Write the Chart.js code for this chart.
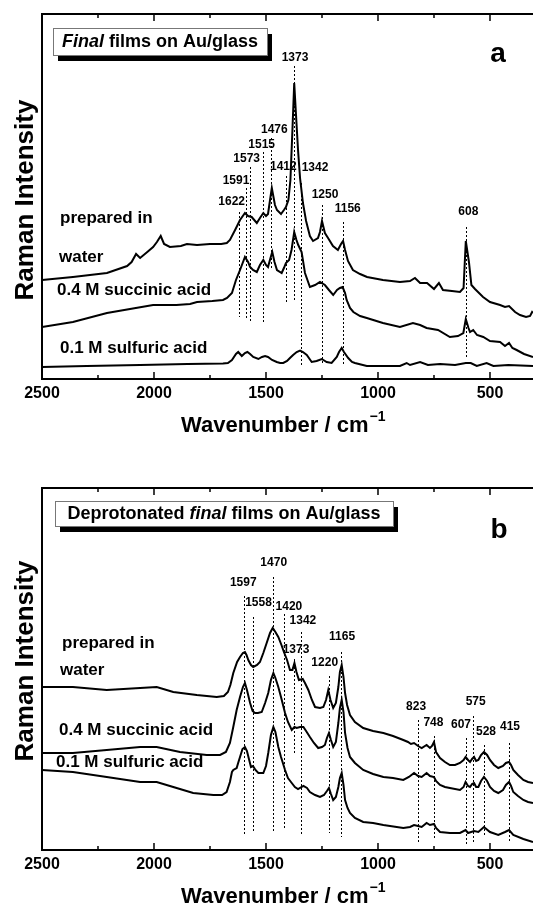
<!DOCTYPE html>
<html>
<head>
<meta charset="utf-8">
<script src="https://cdn.jsdelivr.net/npm/chart.js@4.4.1/dist/chart.umd.min.js"></script>
<style>
  html, body { margin: 0; padding: 0; background: #fff; overflow: hidden; }
  .panel { position: absolute; left: 0; width: 533px; }
  #panelA { top: 0; height: 440px; }
  #panelB { top: 440px; height: 470px; }
</style>
</head>
<body>
<div class="panel" id="panelA"><canvas id="chartA"></canvas></div>
<div class="panel" id="panelB"><canvas id="chartB"></canvas></div>
<script>
// x axis (wavenumber, cm-1)
const xTickLabels = [2500, 2000, 1500, 1000, 500];

// --- panel a: final films, [wavenumber, intensity] ---
const waterA = [
  [2500,99],[2362,102],[2210,106],[2120,113],[2100,117],[2080,125],[2062,121],[2030,127],[2004,132],[1987,137],
  [1970,143],[1955,135],[1929,132],[1880,133],[1853,135],[1808,134],[1750,135],[1700,135],[1675,136],[1661,139],
  [1638,149],[1616,159],[1594,166],[1580,163],[1564,162],[1541,156],[1527,161],[1512,166],[1500,163],[1491,165],
  [1482,179],[1474,191],[1460,174],[1451,169],[1433,165],[1420,169],[1411,172],[1400,179],[1391,199],[1382,249],
  [1374,296],[1366,264],[1357,229],[1348,201],[1335,176],[1321,158],[1304,143],[1290,138],[1268,141],[1259,147],
  [1250,158],[1237,146],[1223,141],[1201,133],[1179,129],[1165,135],[1156,138],[1147,129],[1134,118],[1112,109],
  [1080,105],[1049,102],[978,99],[902,97],[857,98],[835,101],[812,96],[781,96],[750,90],[728,96],[710,89],
  [670,88],[634,87],[618,91],[608,138],[594,117],[583,94],[567,90],[531,82],[500,77],[455,74],[433,72],[415,73],
  [388,67],[366,64],[339,62],[321,63],[312,67],[308,66]
];
const succinicA = [
  [2500,52],[2362,57],[2210,66],[2107,70],[2004,74],[1960,74],[1900,74],[1839,75],[1808,77],[1740,78],[1692,79],
  [1674,81],[1652,86],[1634,99],[1616,109],[1594,122],[1580,117],[1571,112],[1558,109],[1541,107],[1527,114],
  [1512,119],[1500,114],[1491,112],[1480,121],[1472,127],[1462,117],[1451,109],[1430,106],[1420,111],[1411,116],
  [1397,119],[1386,129],[1374,147],[1364,139],[1356,134],[1341,127],[1326,106],[1304,92],[1281,94],[1259,97],
  [1237,94],[1219,89],[1200,84],[1183,89],[1170,91],[1158,92],[1147,86],[1140,79],[1125,71],[1110,67],[1080,63],
  [1050,61],[978,56],[902,52],[844,56],[812,54],[783,51],[732,49],[679,42],[643,43],[619,46],[608,60],[596,51],
  [589,47],[575,49],[558,44],[530,42],[500,38],[455,37],[433,33],[415,36],[400,31],[381,29],[348,25],[308,22]
];
const sulfuricA = [
  [2500,12],[2300,13],[2062,14],[1850,15],[1692,15.5],[1670,16],[1652,19],[1634,25],[1624,27],[1608,23],[1594,26],
  [1583,27],[1571,25],[1557,22],[1534,20],[1518,22],[1504,23],[1491,22],[1473,19],[1452,17],[1437,16],[1423,16],
  [1406,18],[1393,21],[1379,24],[1363,27],[1348,28.5],[1335,27],[1318,24],[1296,17],[1274,18],[1251,20],[1229,17],
  [1207,16],[1184,22],[1174,27],[1162,31],[1152,27],[1133,21],[1116,17],[1103,16],[1050,13],[902,13],[872,16],
  [857,14],[812,17],[777,14],[723,15],[656,14],[608,16],[586,16],[559,13],[515,16],[485,13],[418,14],[308,13]
];
const peaksA = [1622, 1591, 1573, 1515, 1476, 1412, 1373, 1342, 1250, 1156, 608];

// --- panel b: deprotonated final films ---
const waterB = [
  [2500,163],[2362,163],[2211,160],[2062,162],[1988,163],[1914,158],[1809,155],[1720,153],[1688,154],[1670,158],
  [1659,165],[1646,177],[1629,188],[1616,193],[1603,197],[1594,198],[1587,195],[1579,190],[1567,185],[1557,183],
  [1540,185],[1527,188],[1512,197],[1497,207],[1482,217],[1470,222],[1458,218],[1445,213],[1431,205],[1420,198],
  [1406,190],[1393,180],[1382,180],[1373,187],[1364,178],[1353,170],[1336,171],[1326,167],[1311,160],[1295,150],
  [1281,143],[1259,142],[1244,143],[1232,150],[1222,160],[1212,150],[1200,142],[1188,147],[1177,163],[1170,178],
  [1162,185],[1154,173],[1147,157],[1138,145],[1125,135],[1103,128],[1066,122],[1022,119],[976,117],[933,114],
  [887,110],[866,108],[853,106],[839,107],[821,104],[805,102],[783,105],[768,102],[759,104],[750,108],[741,98],
  [723,92],[701,88],[679,85],[656,85],[634,87],[618,90],[609,93],[598,90],[589,88],[580,91],[571,93],[562,89],
  [552,90],[540,95],[527,98],[513,95],[500,90],[482,85],[463,82],[442,84],[429,87],[415,88],[406,85],[396,80],
  [375,75],[351,70],[330,68],[308,67]
];
const succinicB = [
  [2500,97],[2362,97],[2211,100],[2062,103],[1988,103],[1884,98],[1765,95],[1705,95],[1679,98],[1661,107],
  [1647,122],[1631,140],[1616,153],[1603,163],[1594,167],[1585,160],[1571,147],[1560,139],[1549,137],[1536,137],
  [1519,138],[1504,147],[1490,157],[1478,170],[1467,177],[1458,172],[1445,163],[1433,153],[1415,137],[1402,128],
  [1385,120],[1373,123],[1363,122],[1348,123],[1333,123],[1321,119],[1304,113],[1286,107],[1267,102],[1250,103],
  [1237,105],[1228,112],[1219,117],[1210,110],[1200,103],[1188,108],[1177,127],[1170,142],[1162,150],[1154,138],
  [1147,117],[1136,102],[1125,93],[1103,87],[1066,80],[1022,76],[976,73],[933,72],[887,70],[862,73],[839,77],
  [821,74],[805,73],[783,77],[768,74],[750,73],[741,69],[723,65],[701,63],[679,62],[634,60],[618,63],[609,68],
  [598,64],[589,63],[580,66],[571,67],[562,63],[552,63],[540,69],[527,73],[513,69],[500,63],[482,59],[463,57],
  [442,60],[429,65],[415,68],[406,64],[396,58],[375,54],[351,50],[330,48],[308,47]
];
const sulfuricB = [
  [2500,80],[2362,78],[2211,73],[2062,68],[1988,68],[1914,63],[1825,57],[1735,55],[1696,55],[1676,58],[1661,68],
  [1652,78],[1646,80],[1631,82],[1623,88],[1616,93],[1605,101],[1594,103],[1585,99],[1575,90],[1567,83],[1558,84],
  [1547,80],[1534,77],[1512,77],[1500,84],[1490,97],[1478,115],[1467,123],[1458,118],[1445,103],[1433,93],[1415,80],
  [1402,72],[1385,67],[1371,63],[1357,61],[1333,64],[1317,62],[1304,58],[1281,55],[1259,53],[1241,55],[1228,59],
  [1219,62],[1210,56],[1200,50],[1188,53],[1177,63],[1170,72],[1162,77],[1154,65],[1147,50],[1136,42],[1125,37],
  [1103,32],[1066,28],[1022,27],[976,25],[887,22],[857,23],[839,25],[821,24],[805,23],[783,27],[768,25],[750,26],
  [741,22],[723,18],[679,17],[634,17],[609,20],[598,17],[571,19],[552,18],[527,23],[500,18],[463,15],[433,18],
  [415,20],[396,15],[351,11],[308,8]
];
const peaksB = [1597, 1558, 1470, 1420, 1373, 1342, 1220, 1165, 823, 748, 607, 575, 528, 415];

// layout: dashed marker [top, bottom, label dx(px), label y] in intensity units
const marksA = [
  [167,62,-7,177],[191,59,-9.6,198],[212,58,-3,220],[227,57,-1,234],[241,109,3,249],[203,77,-2.4,212],
  [313,79,0.6,321],[196,14,13.6,211],[174,16,3,184],[157,14,4.7,170],[152,22,2.5,167]
];
const marksB = [
  [254,15,-1,267],[233,18,5.5,247],[273,17,1,287],[236,20,5,243],[191,95,1.6,200],[218,16,1.5,229],
  [174,17,-4,187],[198,13,1,213],[130,8,-1.6,143],[114,12,-1,127],[112,6,-5,125],[134,7,2.5,148],
  [105,13,2.3,118],[107,8,1,123]
];

const FONT = '"Liberation Sans", Arial, Helvetica, sans-serif';

function makeDecor(p) {
  return {
    id: 'decor',
    afterDatasetsDraw(chart) {
      const {ctx, chartArea: a, scales: {x, y}} = chart;
      ctx.save();

      // dashed peak markers
      ctx.strokeStyle = '#000';
      ctx.lineWidth = 1;
      ctx.setLineDash([2, 2]);
      p.peaks.forEach((wn, i) => {
        const m = p.marks[i];
        const px = Math.round(x.getPixelForValue(wn)) + 0.5;
        ctx.beginPath();
        ctx.moveTo(px, y.getPixelForValue(m[0]));
        ctx.lineTo(px, y.getPixelForValue(m[1]));
        ctx.stroke();
      });
      ctx.setLineDash([]);

      ctx.fillStyle = '#000';
      ctx.font = 'bold 12px ' + FONT;
      ctx.textAlign = 'center';
      ctx.textBaseline = 'middle';
      p.peaks.forEach((wn, i) => {
        const m = p.marks[i];
        ctx.fillText(String(wn), x.getPixelForValue(wn) + m[2], y.getPixelForValue(m[3]));
      });

      // frame (left, top, bottom) with inward ticks
      ctx.lineWidth = 2;
      ctx.beginPath();
      ctx.moveTo(a.right + 2, a.top);
      ctx.lineTo(a.left, a.top);
      ctx.lineTo(a.left, a.bottom);
      ctx.lineTo(a.right + 2, a.bottom);
      ctx.stroke();
      ctx.lineWidth = 1.5;
      for (let v = 2500; v >= x.min; v -= 250) {
        const px = x.getPixelForValue(v);
        const len = v % 500 === 0 ? 7 : 4;
        ctx.beginPath();
        ctx.moveTo(px, a.bottom);
        ctx.lineTo(px, a.bottom - len);
        ctx.moveTo(px, a.top);
        ctx.lineTo(px, a.top + len);
        ctx.stroke();
      }

      // curve names
      ctx.font = 'bold 17px ' + FONT;
      ctx.textAlign = 'left';
      p.curveNames.forEach(c => ctx.fillText(c[2], c[0], c[1]));

      // title box with shadow
      const [bx, by, bw, bh] = p.box;
      ctx.fillStyle = '#000';
      ctx.fillRect(bx + 5, by + 6, bw, bh);
      ctx.fillStyle = '#fff';
      ctx.fillRect(bx, by, bw, bh);
      ctx.strokeStyle = '#777';
      ctx.lineWidth = 1;
      ctx.strokeRect(bx + 0.5, by + 0.5, bw, bh);
      let total = 0;
      p.boxText.forEach(s => {
        ctx.font = (s[1] ? 'italic ' : '') + 'bold 18px ' + FONT;
        total += ctx.measureText(s[0]).width;
      });
      let tx = bx + (bw - total) / 2;
      ctx.fillStyle = '#000';
      ctx.textBaseline = 'middle';
      p.boxText.forEach(s => {
        ctx.font = (s[1] ? 'italic ' : '') + 'bold 18px ' + FONT;
        ctx.fillText(s[0], tx, by + bh / 2 + 1);
        tx += ctx.measureText(s[0]).width;
      });

      // panel letter
      ctx.font = 'bold 28px ' + FONT;
      ctx.textAlign = 'center';
      ctx.fillText(p.letter, p.letterPos[0], p.letterPos[1]);

      // y title
      ctx.save();
      ctx.translate(33, p.yTitleY);
      ctx.rotate(-Math.PI / 2);
      ctx.font = 'bold 26px ' + FONT;
      ctx.textBaseline = 'alphabetic';
      ctx.fillText('Raman Intensity', 0, 0);
      ctx.restore();

      // x title with superscript
      ctx.textAlign = 'left';
      ctx.textBaseline = 'alphabetic';
      ctx.font = 'bold 22px ' + FONT;
      const base = a.bottom + 53;
      const main = 'Wavenumber / cm';
      ctx.fillText(main, 181, base);
      const w = ctx.measureText(main).width;
      ctx.font = 'bold 14px ' + FONT;
      ctx.fillText('\u22121', 181 + w + 1, base - 11);

      ctx.restore();
    }
  };
}

function makePanel(p) {
  const toPts = s => s.map(d => ({x: d[0], y: d[1]}));
  return new Chart(document.getElementById(p.canvas), {
    type: 'line',
    data: {
      datasets: p.series.map(s => ({
        data: toPts(s),
        borderColor: '#000',
        borderWidth: 2,
        pointRadius: 0,
        tension: 0,
        fill: false
      }))
    },
    options: {
      responsive: true,
      maintainAspectRatio: false,
      animation: false,
      devicePixelRatio: 1,
      layout: { padding: { top: p.top, left: 0, right: 0, bottom: 0 } },
      plugins: { legend: { display: false }, tooltip: { enabled: false } },
      scales: {
        x: {
          type: 'linear',
          reverse: true,
          min: 308,
          max: 2500,
          grid: { display: false, drawTicks: false },
          border: { display: false },
          afterBuildTicks: s => { s.ticks = xTickLabels.slice().reverse().map(v => ({value: v})); },
          afterFit: s => { s.height = p.xBox; },
          ticks: {
            autoSkip: false,
            maxRotation: 0,
            padding: 5,
            color: '#000',
            font: { family: FONT, size: 16, weight: 'bold' },
            callback: v => String(v)
          }
        },
        y: {
          min: 0,
          max: p.yMax,
          grid: { display: false, drawTicks: false },
          border: { display: false },
          ticks: { display: false },
          afterFit: s => { s.width = 42; }
        }
      }
    },
    plugins: [makeDecor(p)]
  });
}

makePanel({
  canvas: 'chartA', top: 14, xBox: 61, yMax: 365,
  series: [waterA, succinicA, sulfuricA],
  peaks: peaksA, marks: marksA,
  curveNames: [[60, 218, 'prepared in'], [59, 257, 'water'], [57, 290, '0.4 M succinic acid'], [60, 348, '0.1 M sulfuric acid']],
  box: [53, 28, 214, 27],
  boxText: [['Final', true], [' films on Au/glass', false]],
  letter: 'a', letterPos: [498, 54],
  yTitleY: 200
});

makePanel({
  canvas: 'chartB', top: 48, xBox: 60, yMax: 362,
  series: [waterB, succinicB, sulfuricB],
  peaks: peaksB, marks: marksB,
  curveNames: [[62, 203, 'prepared in'], [60, 230, 'water'], [59, 290, '0.4 M succinic acid'], [56, 322, '0.1 M sulfuric acid']],
  box: [55, 61, 338, 25],
  boxText: [['Deprotonated ', false], ['final', true], [' films on Au/glass', false]],
  letter: 'b', letterPos: [499, 90],
  yTitleY: 221
});
</script>
</body>
</html>
